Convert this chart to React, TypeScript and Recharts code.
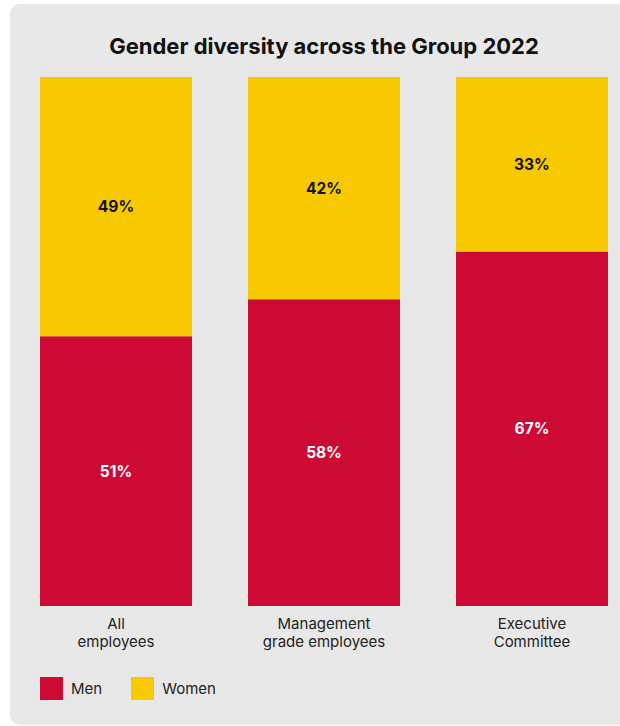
import { BarChart, Bar, XAxis, YAxis, LabelList } from 'recharts';

const title = 'Gender diversity across the Group 2022';
const categories = ['All\nemployees', 'Management\ngrade employees', 'Executive\nCommittee'];
const menShare = [51, 58, 67];
const womenShare = [49, 42, 33];

const RED = '#cd0a34';
const YELLOW = '#f9c900';
const FONT = 'Inter, Roboto, "Liberation Sans", sans-serif';

const data = categories.map((name, i) => ({ name, men: menShare[i], women: womenShare[i] }));

function CategoryTick(props: any) {
  const { x, y, payload } = props;
  const lines = String(payload.value).split('\n');
  return (
    <g>
      {lines.map((line, i) => (
        <text
          key={i}
          x={x}
          y={y + 23 + i * 18}
          textAnchor="middle"
          fontSize={15}
          fill="#222"
          fontFamily={FONT}
        >
          {line}
        </text>
      ))}
    </g>
  );
}

function LegendBox() {
  const items = [
    { label: 'Men', color: RED },
    { label: 'Women', color: YELLOW },
  ];
  return (
    <div style={{ display: 'flex', alignItems: 'center', fontFamily: FONT, fontSize: 15, color: '#222' }}>
      {items.map((it) => (
        <div key={it.label} style={{ display: 'flex', alignItems: 'center', marginRight: 29 }}>
          <span style={{ width: 23, height: 23, background: it.color, display: 'inline-block', marginRight: 8 }} />
          <span>{it.label}</span>
        </div>
      ))}
    </div>
  );
}

export default function App() {
  return (
    <div style={{ position: 'fixed', left: 0, top: 0, width: 620, height: 726, overflow: 'hidden', background: '#fff' }}>
      <div
        style={{
          position: 'absolute',
          left: 10,
          top: 4,
          width: 640,
          height: 721,
          borderRadius: 10,
          background: '#e8e8e8',
        }}
      />
      <div
        style={{
          position: 'absolute',
          left: 0,
          top: 33,
          width: 648,
          textAlign: 'center',
          fontFamily: FONT,
          fontWeight: 700,
          fontSize: 22,
          color: '#111',
        }}
      >
        {title}
      </div>
      <div style={{ position: 'absolute', left: 0, top: 0 }}>
        <BarChart
          width={650}
          height={726}
          data={data}
          margin={{ top: 77, right: 14, bottom: 80, left: 12 }}
          barCategoryGap={28}
        >
          <XAxis
            dataKey="name"
            axisLine={false}
            tickLine={false}
            tickSize={0}
            tickMargin={0}
            height={40}
            interval={0}
            tick={<CategoryTick />}
          />
          <YAxis hide domain={[0, 100]} />
          <Bar dataKey="men" name="Men" stackId="a" fill={RED} isAnimationActive={false}>
            <LabelList
              dataKey="men"
              position="center"
              formatter={(v: any) => `${v}%`}
              fill="#fff"
              fontSize={15.5}
              fontWeight={700}
              fontFamily={FONT}
            />
          </Bar>
          <Bar dataKey="women" name="Women" stackId="a" fill={YELLOW} isAnimationActive={false}>
            <LabelList
              dataKey="women"
              position="center"
              formatter={(v: any) => `${v}%`}
              fill="#111"
              fontSize={15.5}
              fontWeight={700}
              fontFamily={FONT}
            />
          </Bar>
        </BarChart>
      </div>
      <div style={{ position: 'absolute', left: 40, top: 677 }}>
        <LegendBox />
      </div>
    </div>
  );
}
